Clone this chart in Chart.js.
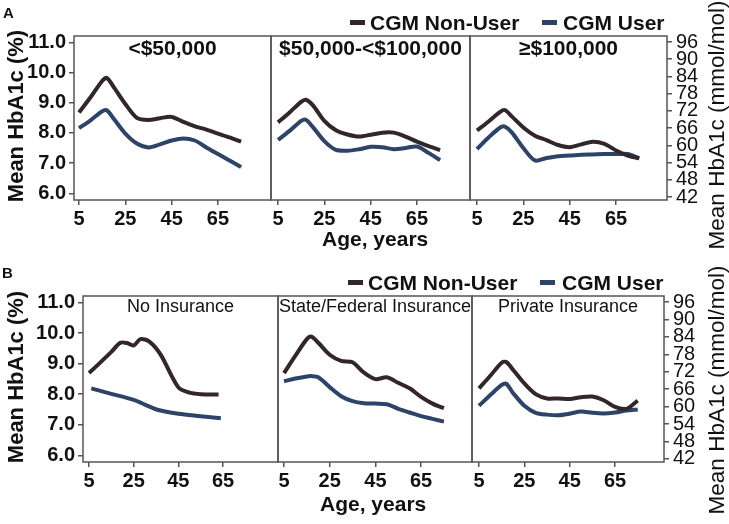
<!DOCTYPE html>
<html>
<head>
<meta charset="utf-8">
<script src="https://cdn.jsdelivr.net/npm/chart.js@4.4.0/dist/chart.umd.min.js"></script>
<style>
  body { margin: 0; background: #fff; }
  #fig { position: relative; width: 729px; height: 524px; overflow: hidden;
         font-family: "Liberation Sans", Arial, sans-serif; color: #111; }
  #fig canvas { position: absolute; left: 0; top: 0; }
  .t { position: absolute; white-space: nowrap; line-height: 1; }
  .b { font-weight: bold; }
  .sw { position: absolute; width: 15px; height: 5px; }
  .vt { position: absolute; white-space: nowrap; line-height: 1; transform: translate(-50%, -50%) rotate(-90deg); }
</style>
</head>
<body>
<div id="fig">
  <canvas id="a1" width="729" height="524"></canvas>
  <canvas id="a2" width="729" height="524"></canvas>
  <canvas id="a3" width="729" height="524"></canvas>
  <canvas id="b1" width="729" height="524"></canvas>
  <canvas id="b2" width="729" height="524"></canvas>
  <canvas id="b3" width="729" height="524"></canvas>

  <div class="t b" style="left:3px;top:5px;font-size:15px;">A</div>
  <div class="t b" style="left:2px;top:265px;font-size:15px;">B</div>

  <!-- legends -->
  <div class="sw" style="left:350px;top:20px;background:#33262a;"></div>
  <div class="t b" style="left:370px;top:12px;font-size:21px;">CGM Non-User</div>
  <div class="sw" style="left:542px;top:20px;background:#2d4368;"></div>
  <div class="t b" style="left:563px;top:12px;font-size:21px;">CGM User</div>
  <div class="sw" style="left:348px;top:280px;background:#33262a;"></div>
  <div class="t b" style="left:368px;top:272px;font-size:21px;">CGM Non-User</div>
  <div class="sw" style="left:540px;top:280px;background:#2d4368;"></div>
  <div class="t b" style="left:562px;top:272px;font-size:21px;">CGM User</div>

  <!-- panel titles -->
  <div class="t b" style="left:74px;width:197px;text-align:center;top:37px;font-size:21px;">&lt;$50,000</div>
  <div class="t b" style="left:271px;width:199px;text-align:center;top:37px;font-size:21px;">$50,000-&lt;$100,000</div>
  <div class="t b" style="left:470px;width:197px;text-align:center;top:37px;font-size:21px;">≥$100,000</div>
  <div class="t" style="left:83px;width:195px;text-align:center;top:297px;font-size:18px;">No Insurance</div>
  <div class="t" style="left:278px;width:194px;text-align:center;top:297px;font-size:18px;">State/Federal Insurance</div>
  <div class="t" style="left:472px;width:192px;text-align:center;top:297px;font-size:18px;">Private Insurance</div>

  <!-- axis titles -->
  <div class="t b" style="left:322px;top:228px;font-size:21px;">Age, years</div>
  <div class="t b" style="left:320px;top:493px;font-size:21px;">Age, years</div>
  <div class="vt b" style="left:16px;top:116px;font-size:22px;">Mean HbA1c (%)</div>
  <div class="vt b" style="left:16px;top:377px;font-size:22px;">Mean HbA1c (%)</div>
  <div class="vt" style="left:717px;top:125px;font-size:22.5px;">Mean HbA1c (mmol/mol)</div>
  <div class="vt" style="left:717px;top:390px;font-size:22.5px;">Mean HbA1c (mmol/mol)</div>
</div>

<script>
const ages = [5, 10, 15, 17, 20, 25, 30, 35, 40, 45, 50, 55, 60, 65, 70, 75];

// A: household income
const lowIncomeNonUser  = [8.68, 9.18, 9.72, 9.82, 9.52, 8.96, 8.50, 8.43, 8.49, 8.53, 8.37, 8.22, 8.11, 7.98, 7.85, 7.71];
const lowIncomeUser     = [8.16, 8.42, 8.72, 8.75, 8.47, 7.98, 7.65, 7.52, 7.62, 7.75, 7.82, 7.75, 7.52, 7.30, 7.09, 6.87];
const midIncomeNonUser  = [8.35, 8.68, 9.03, 9.10, 8.92, 8.40, 8.09, 7.95, 7.88, 7.94, 8.01, 8.01, 7.88, 7.71, 7.56, 7.43];
const midIncomeUser     = [7.77, 8.07, 8.40, 8.44, 8.20, 7.73, 7.44, 7.41, 7.46, 7.54, 7.53, 7.46, 7.50, 7.55, 7.34, 7.10];
const highIncomeNonUser = [8.08, 8.38, 8.70, 8.76, 8.55, 8.18, 7.91, 7.76, 7.60, 7.53, 7.62, 7.71, 7.64, 7.42, 7.25, 7.16];
const highIncomeUser    = [7.47, 7.85, 8.18, 8.21, 8.02, 7.50, 7.09, 7.17, 7.23, 7.25, 7.28, 7.29, 7.30, 7.30, 7.30, 7.16];

// B: insurance
const noInsAgesNonUser = [5, 10, 15, 19, 22, 25, 28, 32, 37, 45, 50, 55, 63];
const noInsNonUser     = [8.69, 9.03, 9.38, 9.68, 9.67, 9.59, 9.80, 9.72, 9.30, 8.22, 8.05, 8.00, 7.99];
const noInsAgesUser    = [6, 15, 25, 30, 36, 45, 55, 64];
const noInsUser        = [8.19, 8.01, 7.81, 7.66, 7.48, 7.36, 7.28, 7.21];
const stateFedNonUser  = [8.69, 9.26, 9.80, 9.88, 9.68, 9.29, 9.09, 9.04, 8.70, 8.49, 8.55, 8.37, 8.19, 7.91, 7.69, 7.54];
const stateFedUser     = [8.42, 8.51, 8.58, 8.59, 8.55, 8.23, 7.93, 7.77, 7.70, 7.69, 7.67, 7.52, 7.40, 7.28, 7.19, 7.10];
const privateNonUser   = [8.19, 8.60, 9.03, 9.05, 8.80, 8.35, 8.00, 7.86, 7.86, 7.84, 7.90, 7.92, 7.80, 7.58, 7.52, 7.79];
const privateUser      = [7.62, 7.97, 8.30, 8.34, 8.04, 7.62, 7.39, 7.33, 7.31, 7.36, 7.43, 7.39, 7.37, 7.40, 7.46, 7.50];

// tick labels
const ageTicks = [5, 25, 45, 65];
const pctTicks = [6, 7, 8, 9, 10, 11];
const mmolTicks = [42, 48, 54, 60, 66, 72, 78, 84, 90, 96];

const nonUserColor = '#33262a';
const userColor = '#2d4368';
const axisColor = '#555';

Chart.defaults.font.family = '"Liberation Sans", Arial, sans-serif';
Chart.defaults.color = '#111';

const framePlugin = {
  id: 'frame',
  beforeDatasetsDraw(chart) {
    const a = chart.chartArea;
    const c = chart.ctx;
    c.save();
    c.strokeStyle = axisColor;
    c.lineWidth = 1.5;
    c.strokeRect(a.left, a.top, a.right - a.left, a.bottom - a.top);
    c.restore();
  }
};

function pts(xs, ys) {
  return xs.map((x, i) => ({ x: x, y: ys[i] }));
}

function makePanel(id, box, xr, nonAges, nonVals, userAges, userVals, leftAxis, rightAxis) {
  const W = 729, H = 524, xH = 40;
  const [left, top, right, bottom] = box;
  const scales = {
    x: {
      type: 'linear', min: xr[0], max: xr[1],
      afterBuildTicks: s => { s.ticks = ageTicks.map(v => ({ value: v })); },
      afterFit: s => { s.height = xH; },
      ticks: { font: { size: 20, weight: 'bold' }, padding: 2, maxRotation: 0, autoSkip: false, color: '#111' },
      grid: { drawOnChartArea: false, drawTicks: true, tickLength: 5, color: axisColor, lineWidth: 1.5 },
      border: { display: false }
    },
    y: {
      display: leftAxis, min: 5.78, max: 11.21,
      afterBuildTicks: s => { s.ticks = pctTicks.map(v => ({ value: v })); },
      afterFit: s => { s.width = leftAxis ? left : 0; },
      ticks: { font: { size: 20, weight: 'bold' }, padding: 3, autoSkip: false, color: '#111', callback: v => v.toFixed(1) },
      grid: { drawOnChartArea: false, drawTicks: true, tickLength: 5, color: axisColor, lineWidth: 1.5 },
      border: { display: false }
    }
  };
  if (rightAxis) {
    scales.y2 = {
      position: 'right', min: 40.95, max: 98.1,
      afterBuildTicks: s => { s.ticks = mmolTicks.map(v => ({ value: v })); },
      afterFit: s => { s.width = W - right; },
      ticks: { font: { size: 20 }, padding: 4, autoSkip: false, color: '#111' },
      grid: { drawOnChartArea: false, drawTicks: true, tickLength: 5, color: axisColor, lineWidth: 1.5 },
      border: { display: false }
    };
  }
  new Chart(document.getElementById(id), {
    type: 'line',
    data: {
      datasets: [
        { label: 'CGM Non-User', data: pts(nonAges, nonVals), borderColor: nonUserColor,
          borderWidth: 4, pointRadius: 0, tension: 0.3, yAxisID: 'y' },
        { label: 'CGM User', data: pts(userAges, userVals), borderColor: userColor,
          borderWidth: 4, pointRadius: 0, tension: 0.3, yAxisID: 'y' }
      ]
    },
    options: {
      responsive: false,
      animation: false,
      devicePixelRatio: 1,
      layout: {
        padding: {
          left: leftAxis ? 0 : left,
          top: top,
          right: rightAxis ? 0 : W - right,
          bottom: H - bottom - xH
        }
      },
      plugins: { legend: { display: false }, tooltip: { enabled: false } },
      scales: scales
    },
    plugins: [framePlugin]
  });
}

makePanel('a1', [74, 36, 271, 200], [2.84, 87.9], ages, lowIncomeNonUser, ages, lowIncomeUser, true, false);
makePanel('a2', [271, 36, 470, 200], [1.98, 87.9], ages, midIncomeNonUser, ages, midIncomeUser, false, false);
makePanel('a3', [470, 36, 667, 200], [1.98, 87.0], ages, highIncomeNonUser, ages, highIncomeUser, false, true);
makePanel('b1', [83, 296, 278, 462], [2.31, 89.6], noInsAgesNonUser, noInsNonUser, noInsAgesUser, noInsUser, true, false);
makePanel('b2', [278, 296, 472, 462], [2.37, 87.3], ages, stateFedNonUser, ages, stateFedUser, false, false);
makePanel('b3', [472, 296, 664, 462], [1.91, 86.6], ages, privateNonUser, ages, privateUser, false, true);
</script>
</body>
</html>
